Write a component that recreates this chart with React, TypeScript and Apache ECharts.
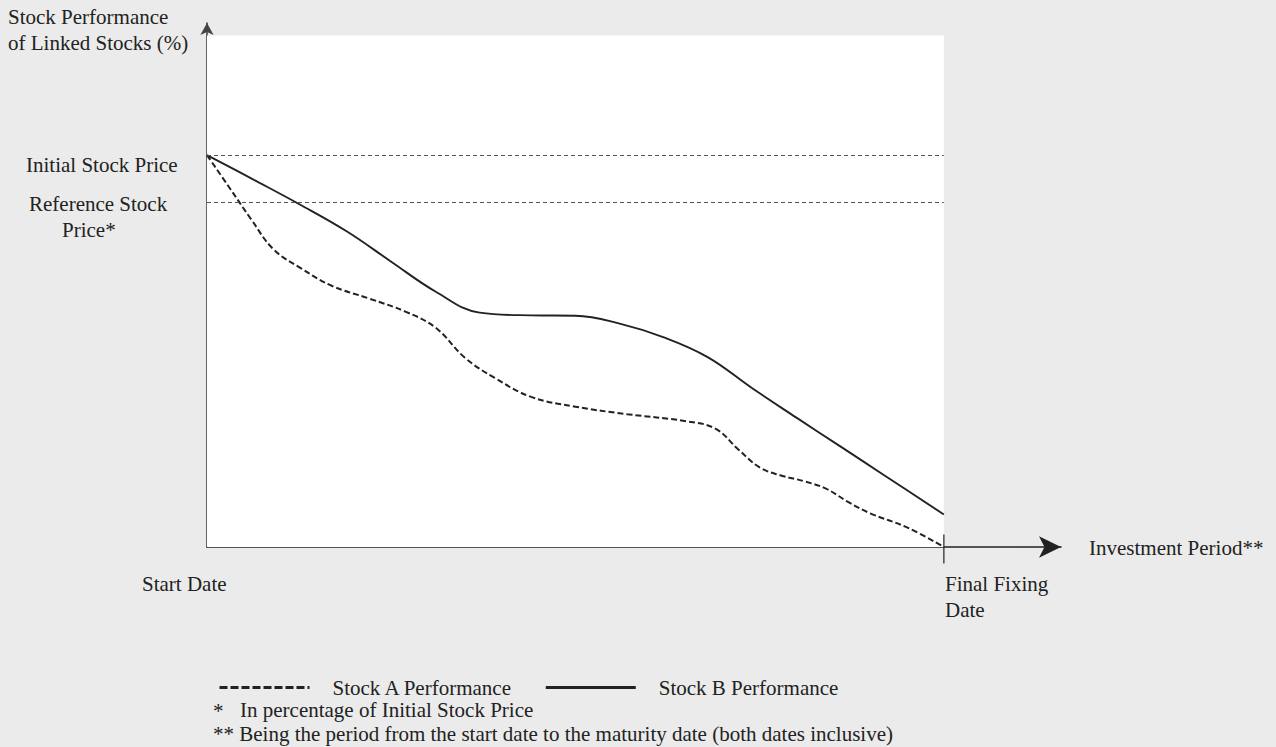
import React, { useEffect, useRef } from "react";
import * as echarts from "echarts";

// Investment period, as % of time from Start Date (0) to Final Fixing Date (100)
const stockAX = [0, 3, 6, 9, 12.6, 17, 22, 27, 31, 35, 39, 44, 50, 57, 65, 69, 72, 75, 78, 81, 84, 87, 90, 95, 100];
const stockAY = [100, 91.8, 83.6, 76.0, 71.3, 66.6, 63.4, 60.0, 56.0, 48.3, 43.2, 38.3, 35.8, 33.9, 32.1, 30.2, 25.1, 20.3, 18.2, 16.8, 14.9, 11.5, 8.6, 5.0, 0];
const stockBX = [0, 6.25, 12.6, 19, 25, 31, 37, 44, 50, 56, 62, 68, 74, 80, 86, 92, 100];
const stockBY = [100, 93.8, 87.4, 80.5, 72.8, 65.2, 59.8, 59.1, 59.0, 57.0, 53.5, 48.4, 40.5, 33.0, 25.6, 18.2, 8.3];

const initialLevel = 100;
const referenceLevel = 88;
const periodEnd = 100;
const plotTop = 130.5;
const xAxisMax = 115.9;
const yAxisMax = 133.7;

const seriesNames = ["Stock A Performance", "Stock B Performance"];

const FONT = "'Liberation Serif', 'Times New Roman', serif";
const INK = "#222222";

export default function App() {
  const ref = useRef<HTMLDivElement>(null);

  useEffect(() => {
    if (!ref.current) return;
    const chart = echarts.init(ref.current, null, { renderer: "svg" });
    const dataA = stockAX.map((x, i) => [x, stockAY[i]]);
    const dataB = stockBX.map((x, i) => [x, stockBY[i]]);

    const txt = (text: string, x: number, y: number, lh = 21) => ({
      type: "text",
      x,
      y,
      style: {
        text,
        fill: INK,
        font: `21px ${FONT}`,
        textVerticalAlign: "middle",
        lineHeight: lh,
      },
    });

    chart.setOption({
      animation: false,
      backgroundColor: "#ebebeb",
      grid: { left: 207, right: 215, top: 23, bottom: 200 },
      xAxis: {
        type: "value",
        min: 0,
        max: xAxisMax,
        axisLine: {
          show: true,
          symbol: ["none", "arrow"],
          symbolSize: [16, 22],
          lineStyle: { color: INK, width: 1.6 },
        },
        axisTick: { show: false },
        axisLabel: { show: false },
        splitLine: { show: false },
      },
      yAxis: {
        type: "value",
        min: 0,
        max: yAxisMax,
        axisLine: {
          show: true,
          symbol: ["none", "arrow"],
          symbolSize: [10, 12],
          lineStyle: { color: "#444", width: 1.6 },
        },
        axisTick: { show: false },
        axisLabel: { show: false },
        splitLine: { show: false },
      },
      legend: {
        left: 213,
        top: 672,
        itemWidth: 90,
        itemHeight: 14,
        itemGap: 31,
        data: [
          { name: seriesNames[0], itemStyle: { opacity: 0 }, lineStyle: { width: 3, type: [8, 3], color: INK } },
          { name: seriesNames[1], itemStyle: { opacity: 0 }, lineStyle: { width: 3, type: "solid", color: INK } },
        ],
        textStyle: {
          fontFamily: FONT,
          fontSize: 21,
          color: INK,
          padding: [0, 0, 0, 18],
        },
      },
      series: [
        {
          name: "plotArea",
          type: "line",
          data: [],
          z: 1,
          markArea: {
            silent: true,
            itemStyle: { color: "#ffffff", borderWidth: 0 },
            data: [[{ coord: [0, 0] }, { coord: [periodEnd, plotTop] }]],
          },
        },
        {
          name: "levels",
          type: "line",
          data: [],
          z: 2,
          markLine: {
            silent: true,
            symbol: ["none", "none"],
            label: { show: false },
            lineStyle: { color: "#555", width: 1, type: [4, 3] },
            data: [
              [{ coord: [0, initialLevel] }, { coord: [periodEnd, initialLevel] }],
              [{ coord: [0, referenceLevel] }, { coord: [periodEnd, referenceLevel] }],
            ],
          },
        },
        {
          name: seriesNames[0],
          type: "line",
          data: dataA,
          smooth: 0.4,
          symbol: "none",
          z: 3,
          lineStyle: { color: INK, width: 2, type: [6, 3] },
          itemStyle: { color: INK },
        },
        {
          name: seriesNames[1],
          type: "line",
          data: dataB,
          smooth: 0.4,
          symbol: "none",
          z: 3,
          lineStyle: { color: INK, width: 1.9 },
          itemStyle: { color: INK },
        },
        {
          name: "finalTick",
          type: "scatter",
          data: [[periodEnd, 0]],
          symbol: "rect",
          symbolSize: [1.5, 29],
          symbolOffset: [0, 2],
          itemStyle: { color: INK },
          z: 4,
          silent: true,
        },
      ],
      graphic: [
        txt("Stock Performance\nof Linked Stocks (%)", 8, 30, 26),
        txt("Initial Stock Price", 26, 165),
        txt("Reference Stock", 29, 204),
        txt("Price*", 62, 230),
        txt("Investment Period**", 1089, 548),
        txt("Start Date", 142, 584),
        txt("Final Fixing\nDate", 945, 597, 26),
        txt("*", 213, 711),
        txt("In percentage of Initial Stock Price", 240, 710),
        txt("** Being the period from the start date to the maturity date (both dates inclusive)", 213, 734),
      ],
    });
    return () => chart.dispose();
  }, []);

  return (
    <div
      ref={ref}
      style={{ position: "fixed", left: 0, top: 0, width: 1276, height: 747 }}
    />
  );
}
